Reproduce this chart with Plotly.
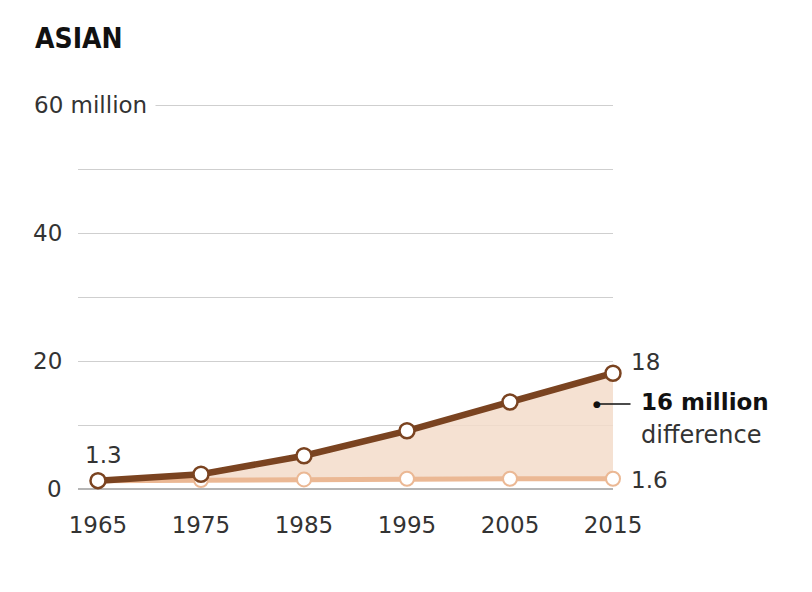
import plotly.graph_objects as go

years = [1965, 1975, 1985, 1995, 2005, 2015]
actual = [1.3, 2.3, 5.2, 9.1, 13.6, 18.1]
no_immig = [1.3, 1.4, 1.5, 1.6, 1.6, 1.6]
ytick_vals = [0, 20, 40]
ytick_text = ["0", "20", "40"]
top_label = "60 million"

DARK = "#7a4320"
LIGHT = "#ebb894"
FILL = "rgba(243,220,202,0.85)"
FONT = "DejaVu Sans"
TXT = "#333"

fig = go.Figure()
fig.add_trace(go.Scatter(
    x=years, y=no_immig, mode="lines+markers",
    line=dict(color=LIGHT, width=5),
    marker=dict(size=14, color="white", line=dict(color=LIGHT, width=2)),
    cliponaxis=False, hoverinfo="skip"))
fig.add_trace(go.Scatter(
    x=years, y=actual, mode="lines+markers", fill="tonexty", fillcolor=FILL,
    line=dict(color=DARK, width=6.5),
    marker=dict(size=15, color="white", line=dict(color=DARK, width=2.5)),
    cliponaxis=False, hoverinfo="skip"))

# y labels: numbers right-aligned, top label left-aligned with white background
for v, t in zip(ytick_vals, ytick_text):
    fig.add_annotation(x=0, xref="paper", xshift=-14, y=v, yref="y", text=t,
                       showarrow=False, xanchor="right", yanchor="middle",
                       font=dict(family=FONT, size=23, color=TXT))
fig.add_annotation(x=0, xref="paper", xshift=-53, y=60, yref="y", text=top_label,
                   showarrow=False, xanchor="left", yanchor="middle",
                   font=dict(family=FONT, size=23, color=TXT),
                   bgcolor="white", borderpad=8)

# end labels
fig.add_annotation(x=years[-1], y=actual[-1], text="18", showarrow=False,
                   xanchor="left", xshift=16, yshift=11,
                   font=dict(family=FONT, size=23, color=TXT))
fig.add_annotation(x=years[-1], y=no_immig[-1], text="1.6", showarrow=False,
                   xanchor="left", xshift=16, yshift=-1,
                   font=dict(family=FONT, size=23, color=TXT))
fig.add_annotation(x=years[0], y=actual[0], text="1.3", showarrow=False,
                   xanchor="center", xshift=6, yshift=26,
                   font=dict(family=FONT, size=23, color=TXT))

diff = round(actual[-1] - no_immig[-1])
fig.add_annotation(x=2013.45, y=13.3, ax=35, ay=0, axref="pixel", ayref="pixel",
                   text="", showarrow=True, arrowhead=0, arrowwidth=1.5,
                   arrowcolor="#111", startstandoff=0)
fig.add_annotation(x=2013.45, y=13.3, text="●", showarrow=False,
                   font=dict(family=FONT, size=9, color="#111"))
fig.add_annotation(x=years[-1], y=13.6, xshift=26, xanchor="left", yanchor="middle",
                   text=f"<b>{diff} million</b>", showarrow=False,
                   font=dict(family=FONT, size=23, color="#111"))
fig.add_annotation(x=years[-1], y=8.4, xshift=26, xanchor="left", yanchor="middle",
                   text="difference", showarrow=False,
                   font=dict(family=FONT, size=24, color=TXT))

fig.add_annotation(x=0, xref="paper", xshift=-45, y=60, yref="y", yshift=67,
                   text="<b>ASIAN</b>", showarrow=False, xanchor="left",
                   yanchor="middle",
                   font=dict(family="DejaVu Sans Condensed, DejaVu Sans", size=28,
                             color="#111"))

fig.update_layout(
    width=812, height=592, showlegend=False,
    margin=dict(l=70, r=207, t=94, b=111),
    plot_bgcolor="white", paper_bgcolor="white",
    xaxis=dict(range=[1963.06, 2015], tickvals=years, showgrid=False,
               zeroline=False, showline=False, ticks="",
               ticklabelstandoff=20,
               tickfont=dict(family=FONT, size=23, color=TXT)),
    yaxis=dict(range=[0, 60.5], dtick=10, showgrid=True, gridcolor="#cfcfcf",
               gridwidth=1, showticklabels=False, zeroline=True,
               zerolinecolor="#b5b5b5", zerolinewidth=1.5, ticks=""),
)
fig.write_html("out.html")
